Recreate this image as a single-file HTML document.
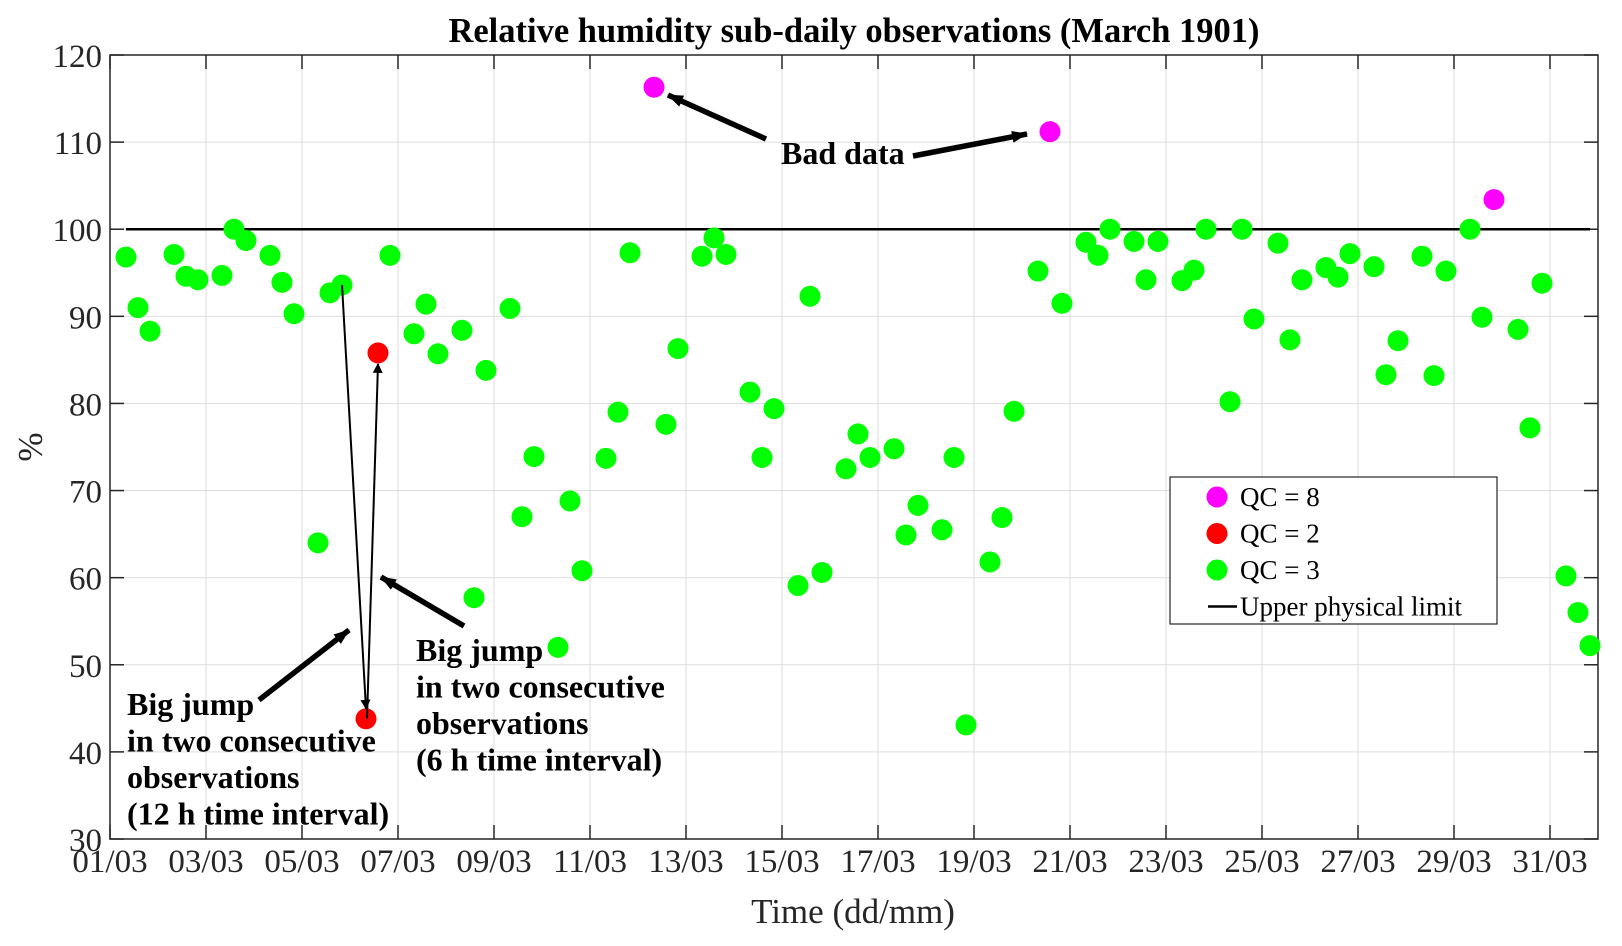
<!DOCTYPE html>
<html><head><meta charset="utf-8"><style>
body{margin:0;background:#fff}
svg{display:block;font-family:"Liberation Serif",serif}
</style></head><body>
<svg id="chart" width="1622" height="946"></svg>
<script>
const values=[96.8,91.0,88.3, 97.1,94.6,94.2, 94.7,100,98.7, 97.0,93.9,90.3, 64.0,92.7,93.6, 43.8,85.8,97.0,
88.0,91.4,85.7, 88.4,57.7,83.8, 90.9,67.0,73.9, 52.0,68.8,60.8, 73.7,79.0,97.3, 116.3,77.6,86.3,
96.9,99.0,97.1, 81.3,73.8,79.4, 59.1,92.3,60.6, 72.5,76.5,73.8, 74.8,64.9,68.3, 65.5,73.8,43.1,
61.8,66.9,79.1, 95.2,111.2,91.5, 98.5,97.0,100, 98.6,94.2,98.6, 94.1,95.3,100, 80.2,100,89.7,
98.4,87.3,94.2, 95.6,94.5,97.2, 95.7,83.3,87.2, 96.9,83.2,95.2, 100,89.9,103.4, 88.5,77.2,93.8,
60.2,56.0,52.2];
const qc=values.map(()=>3);
const qcOverrides=[[15,2],[16,2],[33,8],[58,8],[86,8]];
const hours=[8,14,20];
const yTicks=[30,40,50,60,70,80,90,100,110,120];
const xTickDays=[1,3,5,7,9,11,13,15,17,19,21,23,25,27,29,31];
const upperLimit=100;
qcOverrides.forEach(o=>qc[o[0]]=o[1]);
const days=values.map((v,i)=>1+Math.floor(i/3)+hours[i%3]/24);

const L=110,R=1598,T=55,B=839;
const xs=d=>L+(d-1)/(32-1)*(R-L);
const ys=v=>B-(v-30)/(120-30)*(B-T);
const NS="http://www.w3.org/2000/svg";
const svg=document.getElementById('chart');
function mk(tag,attrs,parent){const e=document.createElementNS(NS,tag);for(const k in attrs)e.setAttribute(k,attrs[k]);(parent||svg).appendChild(e);return e;}

const grid=mk('g',{});


yTicks.forEach(t=>{mk('line',{x1:L,x2:R,y1:ys(t),y2:ys(t),stroke:'#dedede','stroke-width':1},grid);});
xTickDays.forEach(d=>{mk('line',{x1:xs(d),x2:xs(d),y1:T,y2:B,stroke:'#dedede','stroke-width':1},grid);});

const box=mk('rect',{x:L,y:T,width:R-L,height:B-T,fill:'none',stroke:'#262626','stroke-width':1.5});



const yAx=mk('g',{});


yTicks.forEach(t=>{
  mk('line',{x1:L,x2:L+14,y1:ys(t),y2:ys(t),stroke:'#262626','stroke-width':1.5},yAx);
  mk('line',{x1:R,x2:R-14,y1:ys(t),y2:ys(t),stroke:'#262626','stroke-width':1.5},yAx);
  const tx=mk('text',{x:L-8,y:ys(t)+12,'text-anchor':'end','font-size':33,fill:'#262626'},yAx);
  tx.textContent=t;
  
  
});
const xAx=mk('g',{});


xTickDays.forEach(d=>{
  mk('line',{x1:xs(d),x2:xs(d),y1:B,y2:B-14,stroke:'#262626','stroke-width':1.5},xAx);
  mk('line',{x1:xs(d),x2:xs(d),y1:T,y2:T+14,stroke:'#262626','stroke-width':1.5},xAx);
  const tx=mk('text',{x:xs(d),y:B+33,'text-anchor':'middle','font-size':33,fill:'#262626'},xAx);
  tx.textContent=String(d).padStart(2,'0')+'/03';
  
  
});

const ul=mk('line',{x1:xs(days[0]),x2:xs(days[days.length-1]),y1:ys(upperLimit),y2:ys(upperLimit),stroke:'#000','stroke-width':2.5});



const colors={3:'#00ff00',2:'#ff0000',8:'#ff00ff'};
const pts=mk('g',{});


[3,2,8].forEach(q=>{
  values.forEach((v,i)=>{
    if(qc[i]!==q)return;
    const c=mk('circle',{cx:xs(days[i]),cy:ys(v),r:10.5,fill:colors[q]},pts);
    
    
  });
});

const defs=mk('defs',{});
const m1=mk('marker',{id:'ah',markerWidth:10,markerHeight:10,refX:9,refY:5,orient:'auto',markerUnits:'userSpaceOnUse'},defs);
mk('path',{d:'M0,0 L10,5 L0,10 z',fill:'#000'},m1);
const m2=mk('marker',{id:'ahb',markerWidth:16,markerHeight:12,refX:15,refY:6,orient:'auto',markerUnits:'userSpaceOnUse'},defs);
mk('path',{d:'M0,0 L16,6 L0,12 z',fill:'#000'},m2);
function arrow(x1,y1,x2,y2,w,m,name){const a=mk('line',{x1,y1,x2,y2,stroke:'#000','stroke-width':w,'marker-end':'url(#'+m+')'});}
const i5=14,r1=15,r2=16;
arrow(xs(days[i5]),ys(values[i5]),xs(days[r1]),ys(values[r1])-10,2,'ah','jump-arrow-12h');
arrow(xs(days[r1])+1,ys(values[r1]),xs(days[r2]),ys(values[r2])+11,2,'ah','jump-arrow-6h');
arrow(766,139,668,95,5.5,'ahb','bad-data-arrow-1');
arrow(913,156,1027,134,5.5,'ahb','bad-data-arrow-2');
arrow(259,700,349,630,5.5,'ahb','big-jump-arrow-1');
arrow(464,626,381,577,5.5,'ahb','big-jump-arrow-2');
function txt(x,y,s,size,weight,name,anchor){const t=mk('text',{x,y,'font-size':size,'font-weight':weight||'normal',fill:'#000','text-anchor':anchor||'start'});t.textContent=s;return t;}
txt(781,164,'Bad data',32,'bold','bad-data-label');
['Big jump','in two consecutive','observations',' (12 h time interval)'].forEach((s,i)=>{const t=txt(127,715+i*36.5,s,32,'bold','big-jump-label-12h');t.setAttribute('xml:space','preserve');});
['Big jump','in two consecutive','observations',' (6 h time interval)'].forEach((s,i)=>{const t=txt(416,661+i*36.5,s,32,'bold','big-jump-label-6h');t.setAttribute('xml:space','preserve');});

txt(854,42,'Relative humidity sub-daily observations (March 1901)',34.5,'bold','chart-title','middle');
txt(853,923,'Time (dd/mm)',35,'normal','x-axis-title','middle').setAttribute('fill','#262626');
const yl=txt(0,0,'%',35,'normal','y-axis-title','middle');
yl.setAttribute('transform','translate(42,447) rotate(-90)');
yl.setAttribute('fill','#262626');

const lg=mk('g',{});


mk('rect',{x:1170,y:477,width:327,height:147,fill:'#fff',stroke:'#262626','stroke-width':1.2},lg);
const legendLabels=['QC = 8','QC = 2','QC = 3','Upper physical limit'];
const legendQc=[8,2,3,null];
legendLabels.forEach((s,i)=>{
  const y=497+i*36.5;
  const e=mk('g',{},lg);
  
  
  if(legendQc[i]!==null)mk('circle',{cx:1217,cy:y,r:10.5,fill:colors[legendQc[i]]},e);
  else mk('line',{x1:1208,x2:1237,y1:y,y2:y,stroke:'#000','stroke-width':2.5},e);
  const t=mk('text',{x:1240,y:y+9,'font-size':27,fill:'#000'},e);t.textContent=s;
});
</script>
</body></html>
